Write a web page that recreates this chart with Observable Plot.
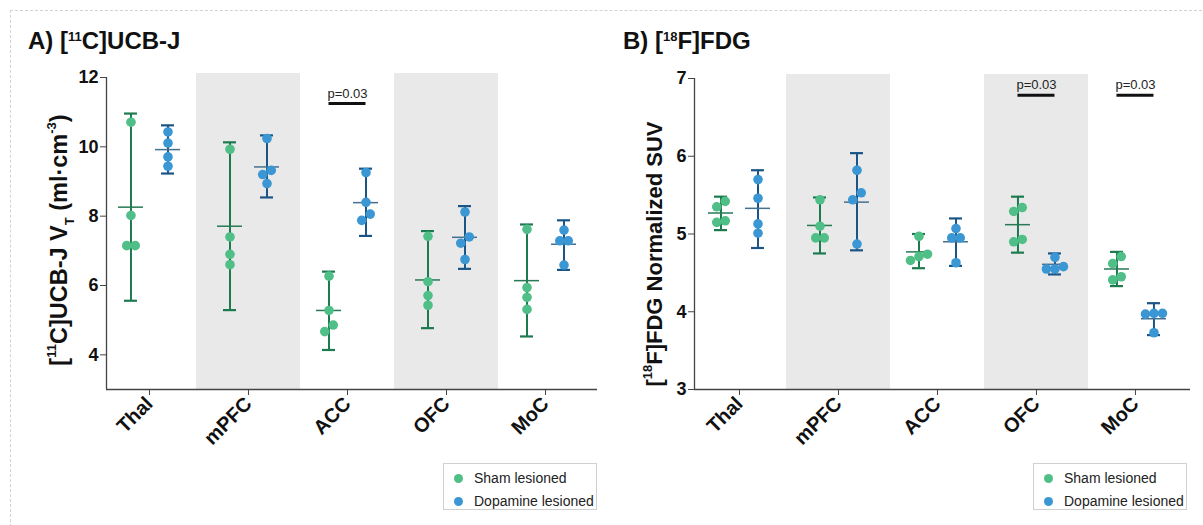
<!DOCTYPE html>
<html><head><meta charset="utf-8">
<script src="https://cdn.jsdelivr.net/npm/d3@7"></script>
<script src="https://cdn.jsdelivr.net/npm/@observablehq/plot@0.6"></script>
<style>
body{margin:0;background:#fff;font-family:"Liberation Sans",Arial,sans-serif;}
#wrap{position:relative;width:1203px;height:525px;overflow:hidden;background:#fff;}
.frame{position:absolute;left:10px;top:10px;width:1205px;height:530px;border:1px dashed #d2d2d2;}
.title{position:absolute;font-weight:bold;font-size:24px;color:#111;white-space:nowrap;line-height:1;}
.title sup{font-size:13px;vertical-align:top;position:relative;top:1px;}
.ylab{position:absolute;font-weight:bold;font-size:22px;color:#111;white-space:nowrap;line-height:1;transform:translate(-50%,-50%) rotate(-90deg);}
.ylab sup{font-size:13px;vertical-align:top;position:relative;top:-3px;}
.ylab sub{font-size:13px;vertical-align:bottom;position:relative;top:4px;}
.legend{position:absolute;border:1px solid #d0d0d0;font-size:14px;color:#222;background:#fff;box-sizing:border-box;padding:3px 0 0 10px;}
.legend div{height:23px;line-height:23px;white-space:nowrap;}
.legend span.dot{display:inline-block;width:9px;height:9px;border-radius:50%;margin-right:11px;vertical-align:middle;position:relative;top:-1px;}
.panel{position:absolute;top:0;}
</style></head>
<body>
<div id="wrap">
  <div class="frame"></div>
  <div class="title" style="left:28px;top:29px">A) [<sup>11</sup>C]UCB-J</div>
  <div class="title" style="left:623px;top:29px">B) [<sup>18</sup>F]FDG</div>
  <div class="ylab" style="left:60px;top:240px;font-size:23.5px">[<sup>11</sup>C]UCB-J V<sub>T</sub> (ml·cm<sup>-3</sup>)</div>
  <div class="ylab" style="left:655px;top:254px">[<sup>18</sup>F]FDG Normalized SUV</div>
  <div id="pA" class="panel" style="left:0px"></div>
  <div id="pB" class="panel" style="left:600px"></div>
  <div class="legend" style="left:443px;top:463px;width:154px;height:47px">
    <div><span class="dot" style="background:#50be87"></span>Sham lesioned</div>
    <div><span class="dot" style="background:#3a97d3"></span>Dopamine lesioned</div>
  </div>
  <div class="legend" style="left:1033px;top:463px;width:154px;height:47px">
    <div><span class="dot" style="background:#50be87"></span>Sham lesioned</div>
    <div><span class="dot" style="background:#3a97d3"></span>Dopamine lesioned</div>
  </div>
</div>
<script>
// ---------- data ----------
const categories = ["Thal", "mPFC", "ACC", "OFC", "MoC"];
const groups = ["Sham lesioned", "Dopamine lesioned"];
const shadedCats = ["mPFC", "OFC"];

// A) [11C]UCB-J VT
const ucbShamPts = [[10.71, 8.02, 7.15, 7.15], [9.93, 7.40, 6.90, 6.60], [6.27, 5.28, 4.86, 4.67], [7.42, 6.11, 5.71, 5.43], [7.62, 5.94, 5.66, 5.31]];
const ucbShamMean = [8.26, 7.71, 5.28, 6.16, 6.14];
const ucbShamLo = [5.56, 5.29, 4.14, 4.77, 4.53];
const ucbShamHi = [10.96, 10.13, 6.40, 7.57, 7.76];
const ucbDopaPts = [[10.43, 10.11, 9.71, 9.44], [10.24, 9.32, 9.20, 8.94], [9.26, 8.40, 8.06, 7.88], [8.12, 7.40, 7.22, 6.75], [7.60, 7.29, 7.29, 6.59]];
const ucbDopaMean = [9.92, 9.42, 8.39, 7.39, 7.19];
const ucbDopaLo = [9.23, 8.54, 7.43, 6.48, 6.45];
const ucbDopaHi = [10.62, 10.33, 9.37, 8.29, 7.88];
const ucbYTicks = [4, 6, 8, 10, 12];
const ucbSigCats = ["ACC"];
const ucbSigLabels = ["p=0.03"];

// B) [18F]FDG normalized SUV
const fdgShamPts = [[5.42, 5.35, 5.17, 5.15], [5.44, 5.10, 4.95, 4.95], [4.97, 4.74, 4.71, 4.66], [5.34, 5.29, 4.93, 4.90], [4.71, 4.62, 4.45, 4.41]];
const fdgShamMean = [5.27, 5.11, 4.77, 5.12, 4.55];
const fdgShamLo = [5.05, 4.75, 4.56, 4.76, 4.33];
const fdgShamHi = [5.48, 5.47, 5.00, 5.48, 4.77];
const fdgDopaPts = [[5.70, 5.46, 5.13, 5.01], [5.82, 5.53, 5.44, 4.87], [5.07, 4.95, 4.95, 4.63], [4.70, 4.58, 4.55, 4.55], [3.98, 3.98, 3.97, 3.73]];
const fdgDopaMean = [5.33, 5.41, 4.90, 4.61, 3.91];
const fdgDopaLo = [4.82, 4.79, 4.59, 4.48, 3.70];
const fdgDopaHi = [5.82, 6.04, 5.20, 4.75, 4.11];
const fdgYTicks = [3, 4, 5, 6, 7];
const fdgSigCats = ["OFC", "MoC"];
const fdgSigLabels = ["p=0.03", "p=0.03"];

// ---------- styles ----------
const dotColor = {"Sham lesioned": "#50be87", "Dopamine lesioned": "#3a97d3"};
const barColor = {"Sham lesioned": "#1d7a4f", "Dopamine lesioned": "#1b5586"};
const meanColor = {"Sham lesioned": "#267a55", "Dopamine lesioned": "#46708f"};

function panel(el, d, layout) {
  const {width, height, mL, mR, mT, mB, xDomain, yDomain, sigY} = layout;
  const pxX = (width - mL - mR) / (xDomain[1] - xDomain[0]);
  const pxY = (height - mT - mB) / (yDomain[1] - yDomain[0]);
  const off = 18.5 / pxX, capHalf = 6.5 / pxX, meanHalf = 12.5 / pxX, jit = 8.5 / pxX;
  const idx = c => categories.indexOf(c);

  const summary = [], points = [];
  const sets = [
    [groups[0], d.shamPts, d.shamMean, d.shamLo, d.shamHi, -off],
    [groups[1], d.dopaPts, d.dopaMean, d.dopaLo, d.dopaHi, off]
  ];
  for (const [g, pts, mean, lo, hi, o] of sets) {
    categories.forEach((c, i) => {
      const x = i + o;
      summary.push({g, c, x, mean: mean[i], lo: lo[i], hi: hi[i]});
      // simple beeswarm: points closer than ~8.5px vertically share a row
      const sorted = pts[i].slice().sort((a, b) => b - a);
      const rows = [];
      let cur = [sorted[0]];
      for (let j = 1; j < sorted.length; j++) {
        if ((cur[cur.length - 1] - sorted[j]) * pxY < 8.5) cur.push(sorted[j]);
        else { rows.push(cur); cur = [sorted[j]]; }
      }
      rows.push(cur);
      for (const r of rows) r.forEach((v, k) => points.push({g, c, v, x: x - (k - (r.length - 1) / 2) * jit}));
    });
  }
  const caps = summary.flatMap(s => [{...s, y: s.lo}, {...s, y: s.hi}]);
  const sig = d.sigCats.map((c, k) => ({c, label: d.sigLabels[k]}));

  const chart = Plot.plot({
    width, height,
    marginLeft: mL, marginRight: mR, marginTop: mT, marginBottom: mB,
    x: {type: "linear", domain: xDomain},
    y: {domain: yDomain},
    style: {fontFamily: "'Liberation Sans', Arial, sans-serif", color: "#111", background: "transparent"},
    marks: [
      Plot.rectY(shadedCats, {x1: c => idx(c) - 0.525, x2: c => idx(c) + 0.525, y1: yDomain[0], y2: yDomain[1], insetTop: -4, fill: "#e9e9e9"}),
      Plot.ruleX(summary, {x: "x", y1: "lo", y2: "hi", stroke: s => barColor[s.g], strokeWidth: 2}),
      Plot.ruleY(caps, {x1: s => s.x - capHalf, x2: s => s.x + capHalf, y: "y", stroke: s => barColor[s.g], strokeWidth: 2.2}),
      Plot.ruleY(summary, {x1: s => s.x - meanHalf, x2: s => s.x + meanHalf, y: "mean", stroke: s => meanColor[s.g], strokeWidth: 1.5}),
      Plot.dot(points, {x: "x", y: "v", r: 4.8, fill: p => dotColor[p.g], stroke: "none"}),
      Plot.ruleY(sig, {x1: s => idx(s.c) - off, x2: s => idx(s.c) + off, y: sigY, stroke: "#111", strokeWidth: 3}),
      Plot.text(sig, {x: s => idx(s.c), y: sigY, text: "label", dy: -10, fontSize: 13, fill: "#222"}),
      Plot.ruleX([xDomain[0]], {stroke: "#444", strokeWidth: 1.3}),
      Plot.ruleY([yDomain[0]], {stroke: "#444", strokeWidth: 1.3}),
      Plot.axisY({ticks: d.yTicks, tickFormat: v => String(v), tickSize: 6, tickPadding: 2, fontSize: 18, fontWeight: "bold", label: null, stroke: "#444"}),
      Plot.axisX({ticks: [0, 1, 2, 3, 4], tickFormat: i => categories[i], tickSize: 6, tickPadding: 5, tickRotate: -45, fontSize: 20, fontWeight: "bold", label: null, stroke: "#444"})
    ]
  });
  document.getElementById(el).appendChild(chart);
}

panel("pA", {
  shamPts: ucbShamPts, shamMean: ucbShamMean, shamLo: ucbShamLo, shamHi: ucbShamHi,
  dopaPts: ucbDopaPts, dopaMean: ucbDopaMean, dopaLo: ucbDopaLo, dopaHi: ucbDopaHi,
  yTicks: ucbYTicks, sigCats: ucbSigCats, sigLabels: ucbSigLabels
}, {width: 600, height: 470, mL: 106, mR: 3, mT: 77, mB: 81, xDomain: [-0.434, 4.525], yDomain: [3, 12], sigY: 11.25});

panel("pB", {
  shamPts: fdgShamPts, shamMean: fdgShamMean, shamLo: fdgShamLo, shamHi: fdgShamHi,
  dopaPts: fdgDopaPts, dopaMean: fdgDopaMean, dopaLo: fdgDopaLo, dopaHi: fdgDopaHi,
  yTicks: fdgYTicks, sigCats: fdgSigCats, sigLabels: fdgSigLabels
}, {width: 603, height: 470, mL: 94, mR: 13, mT: 78, mB: 81, xDomain: [-0.4545, 4.556], yDomain: [3, 7], sigY: 6.785});
</script>
</body></html>
